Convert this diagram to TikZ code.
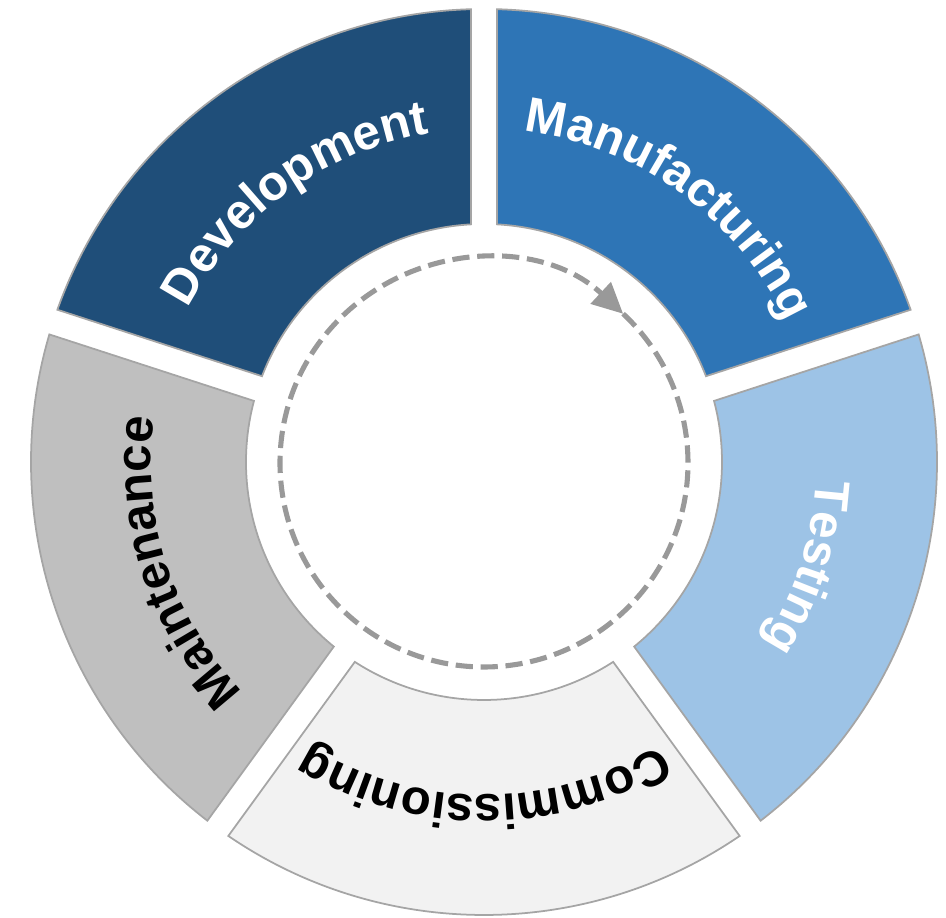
\documentclass[tikz,border=0pt]{standalone}
\usepackage{fontspec}
\setmainfont{Liberation Sans}
\usetikzlibrary{arrows.meta,decorations.text}

\definecolor{devblue}{HTML}{1F4E79}
\definecolor{manblue}{HTML}{2E75B6}
\definecolor{testblue}{HTML}{9DC3E6}
\definecolor{commgray}{HTML}{F2F2F2}
\definecolor{maintgray}{HTML}{BFBFBF}
\definecolor{ringedge}{HTML}{A5A5A5}
\definecolor{loopgray}{HTML}{999999}

\begin{document}
\begin{tikzpicture}[x=0.02cm, y=0.02cm, segment/.style={draw=ringedge, line width=1pt}, phase/.style 2 args={decorate, decoration={text along path, text align=center, text={|\fontsize{28}{34}\selectfont\bfseries\color{#1}|#2}}}, looparrow/.style={draw=loopgray, line width=2.9pt, dash pattern=on 9.8pt off 4.4pt, -{Triangle[length=17.5pt, width=16.4pt]}}]

    \useasboundingbox (-484,-456) rectangle (462,462);

    % ring segments
    \draw[segment, fill=devblue] (91.64:453) arc[start angle=91.64, end angle=160.36, radius=453] -- (158.87:238) arc[start angle=158.87, end angle=93.13, radius=238] -- cycle;
    \draw[segment, fill=manblue] (19.64:453) arc[start angle=19.64, end angle=88.36, radius=453] -- (86.87:238) arc[start angle=86.87, end angle=21.13, radius=238] -- cycle;
    \draw[segment, fill=testblue] (-52.36:453) arc[start angle=-52.36, end angle=16.36, radius=453] -- (14.87:238) arc[start angle=14.87, end angle=-50.87, radius=238] -- cycle;
    \draw[segment, fill=commgray] (-124.36:453) arc[start angle=-124.36, end angle=-55.64, radius=453] -- (-57.13:238) arc[start angle=-57.13, end angle=-122.87, radius=238] -- cycle;
    \draw[segment, fill=maintgray] (163.64:453) arc[start angle=163.64, end angle=232.36, radius=453] -- (230.87:238) arc[start angle=230.87, end angle=165.13, radius=238] -- cycle;

    % labels
    \path[phase={white}{Development}] (160:333) arc[start angle=160, end angle=92, radius=333];
    \path[phase={white}{Manufacturing}] (88:333) arc[start angle=88, end angle=20, radius=333];
    \path[phase={white}{Testing}] (16:333) arc[start angle=16, end angle=-52, radius=333];
    \path[phase={black}{Commissioning}] (-56:333) arc[start angle=-56, end angle=-124, radius=333];
    \path[phase={black}{Maintenance}] (232:333) arc[start angle=232, end angle=164, radius=333];

    % cycle arrow
    \coordinate (loopc) at (0,-1);
    \draw[looparrow] ([shift={(47:204)}]loopc) arc[start angle=407, end angle=47, radius=204];

\end{tikzpicture}
\end{document}
